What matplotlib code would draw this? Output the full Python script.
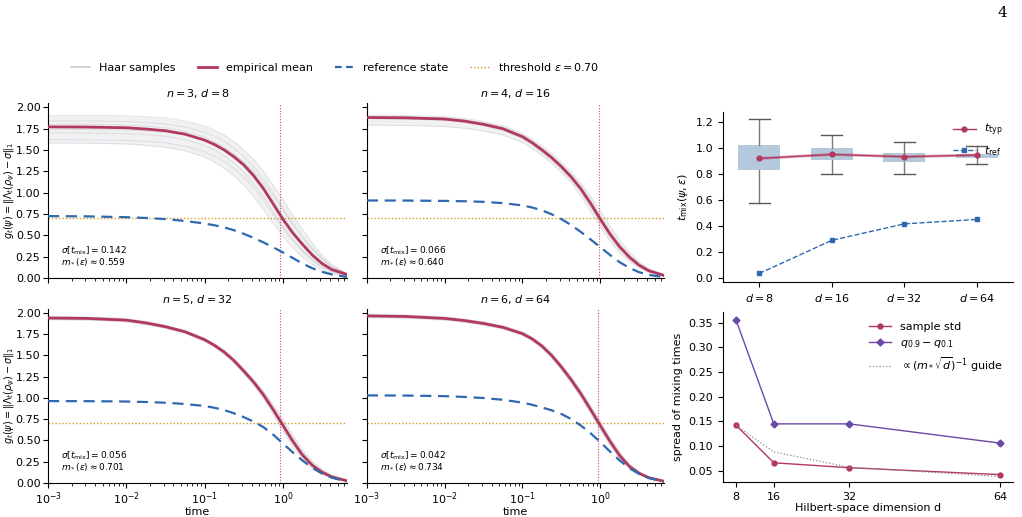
import numpy as np
import matplotlib
matplotlib.use("Agg")
import matplotlib.pyplot as plt
from matplotlib.lines import Line2D

# ---------------- data ----------------
time_grid = [0.001, 0.00316, 0.01, 0.0178, 0.0316, 0.0562, 0.1, 0.133, 0.178, 0.237, 0.316,
             0.422, 0.562, 0.750, 1.0, 1.334, 1.778, 2.371, 3.162, 4.217, 6.607]

panel_titles = ["$n = 3$, $d = 8$", "$n = 4$, $d = 16$", "$n = 5$, $d = 32$", "$n = 6$, $d = 64$"]
sigma_tmix = [0.142, 0.066, 0.056, 0.042]
m_star = [0.559, 0.640, 0.701, 0.734]
t_typ = [0.92, 0.95, 0.93, 0.945]
threshold = 0.70

mean_curves = [
    [1.770, 1.768, 1.760, 1.745, 1.725, 1.685, 1.615, 1.565, 1.500, 1.420, 1.325, 1.200, 1.050, 0.870, 0.690, 0.530, 0.395, 0.270, 0.170, 0.100, 0.040],
    [1.880, 1.876, 1.862, 1.838, 1.800, 1.748, 1.655, 1.585, 1.500, 1.410, 1.305, 1.185, 1.045, 0.875, 0.690, 0.515, 0.365, 0.245, 0.150, 0.085, 0.030],
    [1.940, 1.935, 1.915, 1.882, 1.838, 1.778, 1.685, 1.620, 1.540, 1.440, 1.318, 1.188, 1.040, 0.865, 0.680, 0.495, 0.330, 0.210, 0.128, 0.072, 0.025],
    [1.965, 1.958, 1.935, 1.910, 1.876, 1.830, 1.756, 1.695, 1.610, 1.500, 1.365, 1.215, 1.050, 0.865, 0.676, 0.490, 0.322, 0.195, 0.114, 0.062, 0.020],
]
ref_curves = [
    [0.725, 0.722, 0.712, 0.703, 0.690, 0.668, 0.638, 0.618, 0.593, 0.560, 0.518, 0.470, 0.418, 0.360, 0.300, 0.235, 0.170, 0.115, 0.072, 0.042, 0.012],
    [0.908, 0.907, 0.903, 0.899, 0.892, 0.877, 0.850, 0.826, 0.792, 0.747, 0.690, 0.620, 0.540, 0.452, 0.362, 0.270, 0.185, 0.118, 0.068, 0.036, 0.010],
    [0.963, 0.962, 0.958, 0.952, 0.944, 0.929, 0.905, 0.885, 0.857, 0.820, 0.775, 0.722, 0.658, 0.570, 0.465, 0.362, 0.265, 0.180, 0.112, 0.062, 0.018],
    [1.030, 1.028, 1.021, 1.012, 0.999, 0.978, 0.945, 0.920, 0.888, 0.855, 0.812, 0.752, 0.676, 0.585, 0.482, 0.370, 0.264, 0.175, 0.106, 0.058, 0.016],
]
# individual Haar sample curves per panel: first = upper edge, last = lower edge
sample_curves = [
    [
        [1.906, 1.905, 1.900, 1.890, 1.875, 1.840, 1.780, 1.735, 1.675, 1.600, 1.505, 1.390, 1.250, 1.090, 0.920, 0.740, 0.570, 0.410, 0.270, 0.160, 0.055],
        [1.840, 1.839, 1.833, 1.822, 1.805, 1.770, 1.705, 1.660, 1.600, 1.520, 1.425, 1.305, 1.160, 0.995, 0.820, 0.650, 0.490, 0.350, 0.230, 0.140, 0.050],
        [1.800, 1.799, 1.792, 1.778, 1.758, 1.718, 1.648, 1.598, 1.532, 1.450, 1.352, 1.228, 1.078, 0.900, 0.718, 0.553, 0.410, 0.285, 0.182, 0.108, 0.040],
        [1.740, 1.739, 1.733, 1.722, 1.706, 1.674, 1.617, 1.575, 1.518, 1.448, 1.360, 1.252, 1.120, 0.965, 0.795, 0.625, 0.470, 0.335, 0.220, 0.135, 0.050],
        [1.700, 1.699, 1.692, 1.680, 1.660, 1.620, 1.550, 1.500, 1.430, 1.345, 1.240, 1.110, 0.955, 0.780, 0.610, 0.455, 0.325, 0.215, 0.130, 0.075, 0.028],
        [1.620, 1.619, 1.612, 1.600, 1.582, 1.545, 1.478, 1.430, 1.365, 1.285, 1.185, 1.060, 0.915, 0.750, 0.585, 0.440, 0.315, 0.210, 0.130, 0.075, 0.025],
        [1.580, 1.579, 1.570, 1.555, 1.532, 1.490, 1.415, 1.360, 1.285, 1.195, 1.085, 0.955, 0.805, 0.645, 0.490, 0.355, 0.245, 0.160, 0.095, 0.052, 0.015],
    ],
    [
        [1.906, 1.903, 1.892, 1.870, 1.835, 1.785, 1.695, 1.628, 1.546, 1.460, 1.360, 1.245, 1.115, 0.955, 0.790, 0.610, 0.445, 0.305, 0.190, 0.110, 0.040],
        [1.895, 1.891, 1.878, 1.855, 1.818, 1.768, 1.676, 1.608, 1.524, 1.436, 1.333, 1.217, 1.080, 0.915, 0.735, 0.560, 0.400, 0.270, 0.168, 0.096, 0.035],
        [1.878, 1.874, 1.860, 1.836, 1.798, 1.745, 1.650, 1.580, 1.494, 1.404, 1.298, 1.178, 1.038, 0.868, 0.682, 0.508, 0.360, 0.240, 0.148, 0.083, 0.030],
        [1.865, 1.861, 1.846, 1.821, 1.782, 1.728, 1.632, 1.560, 1.472, 1.380, 1.273, 1.150, 1.005, 0.830, 0.640, 0.468, 0.325, 0.215, 0.130, 0.072, 0.025],
        [1.790, 1.787, 1.775, 1.755, 1.722, 1.675, 1.588, 1.520, 1.438, 1.345, 1.238, 1.115, 0.960, 0.780, 0.595, 0.430, 0.295, 0.192, 0.115, 0.062, 0.020],
    ],
    [
        [1.960, 1.955, 1.935, 1.902, 1.858, 1.798, 1.705, 1.642, 1.562, 1.465, 1.348, 1.225, 1.085, 0.925, 0.755, 0.570, 0.395, 0.260, 0.165, 0.095, 0.035],
        [1.950, 1.945, 1.925, 1.892, 1.848, 1.788, 1.695, 1.631, 1.551, 1.452, 1.332, 1.205, 1.060, 0.893, 0.715, 0.530, 0.362, 0.235, 0.145, 0.082, 0.030],
        [1.930, 1.925, 1.905, 1.872, 1.828, 1.768, 1.675, 1.609, 1.528, 1.427, 1.303, 1.170, 1.018, 0.838, 0.645, 0.462, 0.302, 0.190, 0.113, 0.062, 0.020],
        [1.920, 1.915, 1.895, 1.862, 1.818, 1.758, 1.664, 1.597, 1.515, 1.412, 1.286, 1.150, 0.995, 0.808, 0.608, 0.428, 0.275, 0.170, 0.100, 0.055, 0.018],
    ],
    [
        [1.985, 1.978, 1.955, 1.930, 1.896, 1.850, 1.778, 1.718, 1.636, 1.530, 1.400, 1.255, 1.095, 0.915, 0.728, 0.540, 0.365, 0.225, 0.132, 0.072, 0.024],
        [1.975, 1.968, 1.945, 1.920, 1.886, 1.840, 1.767, 1.706, 1.623, 1.515, 1.382, 1.235, 1.072, 0.890, 0.702, 0.515, 0.343, 0.210, 0.123, 0.067, 0.022],
        [1.955, 1.948, 1.925, 1.900, 1.866, 1.820, 1.745, 1.684, 1.597, 1.485, 1.348, 1.195, 1.028, 0.840, 0.650, 0.465, 0.302, 0.180, 0.105, 0.057, 0.018],
        [1.945, 1.938, 1.915, 1.890, 1.856, 1.810, 1.734, 1.672, 1.584, 1.470, 1.330, 1.175, 1.005, 0.815, 0.624, 0.440, 0.282, 0.168, 0.097, 0.052, 0.016],
    ],
]

dims = [8, 16, 32, 64]
dim_labels = ["$d = 8$", "$d = 16$", "$d = 32$", "$d = 64$"]
box_q1 = [0.831, 0.909, 0.896, 0.927]
box_q3 = [1.026, 1.000, 0.964, 0.958]
box_whislo = [0.579, 0.800, 0.805, 0.883]
box_whishi = [1.226, 1.099, 1.052, 1.016]
t_typ_vals = [0.922, 0.953, 0.935, 0.948]
t_ref_vals = [0.036, 0.291, 0.418, 0.452]

spread_std = [0.142, 0.066, 0.056, 0.042]
spread_q = [0.355, 0.145, 0.145, 0.106]
spread_guide = [0.142, 0.088, 0.057, 0.038]

# ---------------- style ----------------
C_MEAN = "#b3385e"
C_REF = "#2e68b0"
C_THR = "#d4a020"
C_SAMP = "#a9adb6"
C_BOX = "#a7c0d5"
C_PURP = "#6a48a6"

plt.rcParams["font.family"] = ["DejaVu Sans"]
plt.rcParams["mathtext.fontset"] = "dejavusans"

fig = plt.figure(figsize=(10.22, 5.17), dpi=100)

left_pos = [
    [0.047, 0.4623, 0.2925, 0.3385],
    [0.359, 0.4623, 0.2907, 0.3385],
    [0.047, 0.0658, 0.2925, 0.3372],
    [0.359, 0.0658, 0.2907, 0.3372],
]

for i in range(4):
    ax = fig.add_axes(left_pos[i])
    samples = sample_curves[i]
    ax.fill_between(time_grid, samples[-1], samples[0], color=C_SAMP, alpha=0.16, lw=0, zorder=1)
    for s in samples:
        ax.plot(time_grid, s, color=C_SAMP, lw=0.7, alpha=0.3, zorder=1)
    ax.plot(time_grid, mean_curves[i], color=C_MEAN, lw=2.0, zorder=3, solid_joinstyle="round")
    ax.plot(time_grid, ref_curves[i], color=C_REF, lw=1.6, ls=(0, (5, 3)), zorder=3)
    ax.axhline(threshold, color=C_THR, lw=1.0, ls=(0, (1, 1.5)), zorder=2)
    ax.axvline(t_typ[i], color="#d2487a", lw=0.8, ls=(0, (1, 1.5)), zorder=2)
    ax.set_xscale("log")
    ax.set_xlim(1e-3, 6.6)
    ax.set_ylim(0, 2.05)
    ax.set_yticks([0, 0.25, 0.5, 0.75, 1.0, 1.25, 1.5, 1.75, 2.0])
    ax.spines["top"].set_visible(False)
    ax.spines["right"].set_visible(False)
    ax.tick_params(labelsize=8, pad=2)
    ax.set_title(panel_titles[i], fontsize=8, pad=4)
    ax.text(0.045, 0.155, r"$\sigma[t_{\mathrm{mix}}] = %.3f$" % sigma_tmix[i],
            transform=ax.transAxes, fontsize=6.5, va="center")
    ax.text(0.045, 0.092, r"$m_*(\varepsilon) \approx %.3f$" % m_star[i],
            transform=ax.transAxes, fontsize=6.5, va="center")
    if i in (0, 2):
        ax.set_ylabel(r"$g_t(\psi) = \|\Lambda_t(\rho_\psi) - \sigma\|_1$", fontsize=7)
        ax.yaxis.set_label_coords(-0.103, 0.5)
    else:
        ax.tick_params(labelleft=False)
    if i in (0, 1):
        ax.tick_params(labelbottom=False)
    else:
        ax.set_xlabel("time", fontsize=8, labelpad=0)

# top legend
handles = [
    Line2D([], [], color="#c8ccd2", lw=1.2),
    Line2D([], [], color=C_MEAN, lw=2.0),
    Line2D([], [], color=C_REF, lw=1.6, ls=(0, (3, 2))),
    Line2D([], [], color=C_THR, lw=1.0, ls=(0, (1, 1.5))),
]
labels = ["Haar samples", "empirical mean", "reference state", r"threshold $\varepsilon = 0.70$"]
fig.legend(handles, labels, loc="center", bbox_to_anchor=(0.328, 0.87), ncol=4,
           frameon=False, fontsize=8, handlelength=1.7, columnspacing=2.0)

# right top: box plot of mixing times
axb = fig.add_axes([0.7074, 0.4545, 0.2838, 0.3289])
positions = list(range(len(dims)))
stats = []
for k in range(len(dims)):
    stats.append(dict(med=t_typ_vals[k], q1=box_q1[k], q3=box_q3[k],
                      whislo=box_whislo[k], whishi=box_whishi[k], fliers=[]))
axb.bxp(stats, positions=positions, widths=0.58, patch_artist=True, showfliers=False,
        boxprops=dict(facecolor=C_BOX, edgecolor="none", alpha=0.85),
        whiskerprops=dict(color="#7a7a7a", lw=1.0),
        capprops=dict(color="#5a5a5a", lw=1.0),
        medianprops=dict(color=C_MEAN, lw=0, alpha=0))
axb.plot(positions, t_typ_vals, color=C_MEAN, lw=2.2, alpha=0.35, zorder=3)
axb.plot(positions, t_typ_vals, color=C_MEAN, lw=1.0, marker="o", ms=3.5, label=r"$t_{\mathrm{typ}}$", zorder=4)
axb.plot(positions, t_ref_vals, color=C_REF, lw=1.0, ls="--", marker="s", ms=3.5, label=r"$t_{\mathrm{ref}}$", zorder=4)
axb.set_xticks(positions)
axb.set_xticklabels(dim_labels)
axb.set_xlim(-0.5, 3.5)
axb.set_ylim(-0.03, 1.28)
axb.set_yticks([0.0, 0.2, 0.4, 0.6, 0.8, 1.0, 1.2])
axb.set_ylabel(r"$t_{\mathrm{mix}}(\psi, \varepsilon)$", fontsize=8)
axb.tick_params(labelsize=8)
axb.spines["top"].set_visible(False)
axb.spines["right"].set_visible(False)
axb.legend(loc="upper right", frameon=False, fontsize=8, bbox_to_anchor=(1.0, 1.0))

# right bottom: spread
axs = fig.add_axes([0.7074, 0.0677, 0.2838, 0.3288])
axs.plot(dims, spread_std, color=C_MEAN, lw=1.0, marker="o", ms=3.5, label="sample std")
axs.plot(dims, spread_q, color=C_PURP, lw=1.0, marker="D", ms=3.5, label=r"$q_{0.9} - q_{0.1}$")
axs.plot(dims, spread_guide, color="#8c8c8c", lw=0.9, ls=":", label=r"$\propto (m_*\sqrt{d})^{-1}$ guide")
axs.set_xticks(dims)
axs.set_yticks([0.05, 0.10, 0.15, 0.20, 0.25, 0.30, 0.35])
axs.set_ylim(0.027, 0.372)
axs.set_xlabel("Hilbert-space dimension d", fontsize=8, labelpad=1)
axs.set_ylabel("spread of mixing times", fontsize=8)
axs.tick_params(labelsize=8)
axs.spines["top"].set_visible(False)
axs.spines["right"].set_visible(False)
axs.legend(loc="upper right", frameon=False, fontsize=8)

fig.text(0.981, 0.988, "4", fontsize=11, family="DejaVu Serif", ha="center", va="top")

fig.savefig("out.png", dpi=100)
